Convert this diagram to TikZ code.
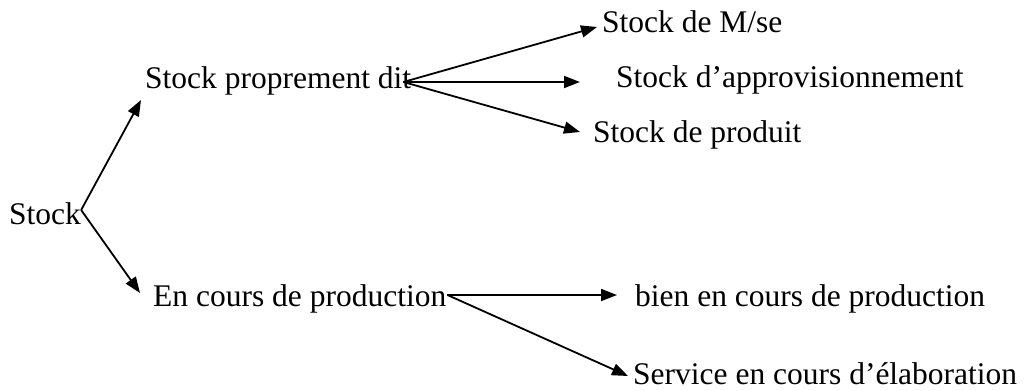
\documentclass[tikz,border=0pt]{standalone}
\usepackage{fontspec}
\setmainfont{Liberation Serif}
\usetikzlibrary{arrows.meta}
\tikzset{
  lbl/.style={inner sep=0pt, anchor=base west, font=\fontsize{31.5}{36}\selectfont},
  conn/.style={line width=1.8pt, -{Triangle[length=16pt,width=12pt]}}
}
\begin{document}
\begin{tikzpicture}[x=1pt,y=-1pt]
\useasboundingbox (0,0) rectangle (1026,391);
\node[lbl] (stock) at (9,224) {Stock};
\node[lbl] (spd) at (145,88) {Stock proprement dit};
\node[lbl] (msm) at (602,32) {Stock de M/se};
\node[lbl] (appro) at (616,87) {Stock d’approvisionnement};
\node[lbl] (prod) at (593,142) {Stock de produit};
\node[lbl] (ecp) at (153,306) {En cours de production};
\node[lbl] (bien) at (635,306) {bien en cours de production};
\node[lbl] (serv) at (633,384) {Service en cours d’élaboration};
\draw[conn] ([yshift=14pt]stock.base east) -- ([xshift=-4pt,yshift=-12pt]spd.base west);
\draw[conn] ([yshift=14pt]stock.base east) -- ([xshift=-13pt,yshift=13pt]ecp.base west);
\draw[conn] ([xshift=-8pt,yshift=6pt]spd.base east) -- ([xshift=-5pt,yshift=5pt]msm.base west);
\draw[conn] ([xshift=-8pt,yshift=6pt]spd.base east) -- ([xshift=-36pt,yshift=5pt]appro.base west);
\draw[conn] ([xshift=-8pt,yshift=6pt]spd.base east) -- ([xshift=-13pt,yshift=10pt]prod.base west);
\draw[conn] ([xshift=1pt,yshift=11pt]ecp.base east) -- ([xshift=-18pt,yshift=11pt]bien.base west);
\draw[conn] ([xshift=1pt,yshift=11pt]ecp.base east) -- ([xshift=-5pt,yshift=8pt]serv.base west);
\end{tikzpicture}
\end{document}
